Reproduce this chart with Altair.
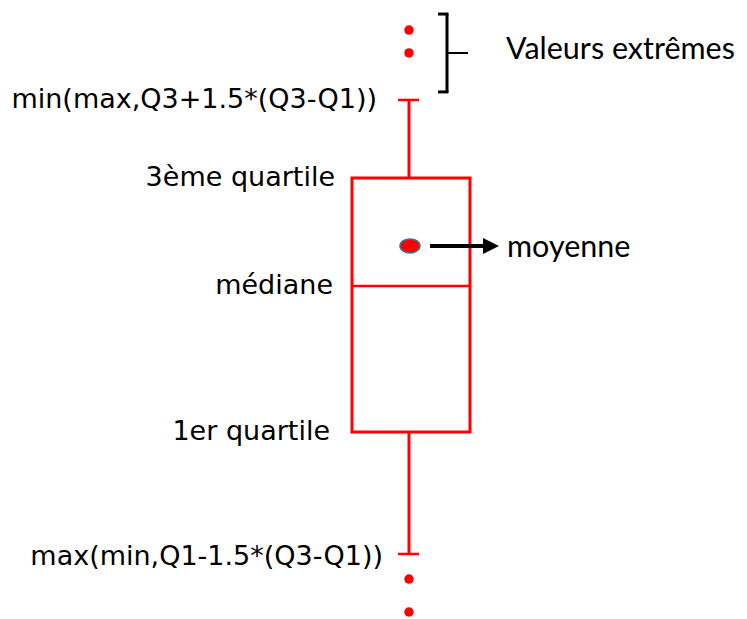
import altair as alt
import pandas as pd

# ---- data (arbitrary value units) ----
q1 = 10.12
median = 15.94
q3 = 20.23
mean = 17.53
whisker_low = 5.27
whisker_high = 23.34
outliers_high = [26.12, 25.21]
outliers_low = [4.27, 2.96]
bracket_span = [26.76, 23.66]

left_labels = ["min(max,Q3+1.5*(Q3-Q1))", "3ème quartile", "médiane", "1er quartile", "max(min,Q1-1.5*(Q3-Q1))"]
left_values = [whisker_high, q3, median, q1, whisker_low - 0.12]
right_labels = ["Valeurs extrêmes", "moyenne"]
right_values = [sum(bracket_span) / 2 + 0.1, mean - 0.1]

# ---- layout (pixels in the plot area) ----
left_label_x = [369, 327, 325, 322, 375]
right_label_x = [498, 499]
BOX_L, BOX_R = 344, 462
WHISK_X = 401
CAP_L, CAP_R = 390, 411
OUT_X = 401
MEAN_X = 402
ARROW_X1, ARROW_X2, HEAD_X = 422, 478, 483
BR_X, BR_L, BR_TICK = 439, 430, 460
RED = "#FF0000"

yscale = alt.Scale(domain=[3, 27])


def Y(field):
    return alt.Y(field, type="quantitative", scale=yscale, axis=None)


def Y2(field):
    return alt.Y2(field)


stats = pd.DataFrame({"q1": [q1], "q3": [q3], "median": [median], "mean": [mean],
                      "lo": [whisker_low], "hi": [whisker_high],
                      "b_top": [bracket_span[0]], "b_bot": [bracket_span[1]],
                      "b_mid": [sum(bracket_span) / 2]})
out_df = pd.DataFrame({"v": outliers_high + outliers_low})
left_df = pd.DataFrame({"label": left_labels, "v": left_values, "xp": left_label_x})
right_df = pd.DataFrame({"label": right_labels, "v": right_values, "xp": right_label_x})

base = alt.Chart(stats)

box = base.mark_rect(fill="white", stroke=RED, strokeWidth=3).encode(
    x=alt.value(BOX_L), x2=alt.value(BOX_R), y=Y("q1"), y2=Y2("q3"))
med = base.mark_rule(color=RED, strokeWidth=2.5).encode(
    x=alt.value(BOX_L), x2=alt.value(BOX_R), y=Y("median"))
wh_up = base.mark_rule(color=RED, strokeWidth=3).encode(
    x=alt.value(WHISK_X), y=Y("q3"), y2=Y2("hi"))
wh_lo = base.mark_rule(color=RED, strokeWidth=3).encode(
    x=alt.value(WHISK_X), y=Y("q1"), y2=Y2("lo"))
cap_up = base.mark_rule(color=RED, strokeWidth=2.5).encode(
    x=alt.value(CAP_L), x2=alt.value(CAP_R), y=Y("hi"))
cap_lo = base.mark_rule(color=RED, strokeWidth=2.5).encode(
    x=alt.value(CAP_L), x2=alt.value(CAP_R), y=Y("lo"))

outs = alt.Chart(out_df).mark_circle(color=RED, size=90, opacity=1).encode(
    x=alt.value(OUT_X), y=Y("v"))

mean_pt = base.mark_point(
    shape="M -1 0 A 1 0.7 0 1 1 1 0 A 1 0.7 0 1 1 -1 0 Z",
    size=400, filled=True, fill=RED, stroke="#41719C", strokeWidth=1.5, opacity=1
).encode(x=alt.value(MEAN_X), y=Y("mean"))

arrow = base.mark_rule(color="black", strokeWidth=4).encode(
    x=alt.value(ARROW_X1), x2=alt.value(ARROW_X2), y=Y("mean"))
head = base.mark_point(shape="M -1 -1 L 1 0 L -1 1 Z", size=256, filled=True,
                       color="black", opacity=1).encode(
    x=alt.value(HEAD_X), y=Y("mean"))

br_v = base.mark_rule(color="black", strokeWidth=3).encode(
    x=alt.value(BR_X), y=Y("b_top"), y2=Y2("b_bot"))
br_t = base.mark_rule(color="black", strokeWidth=3).encode(
    x=alt.value(BR_L), x2=alt.value(BR_X + 1.5), y=Y("b_top"))
br_b = base.mark_rule(color="black", strokeWidth=3).encode(
    x=alt.value(BR_L), x2=alt.value(BR_X + 1.5), y=Y("b_bot"))
br_m = base.mark_rule(color="black", strokeWidth=2).encode(
    x=alt.value(BR_X), x2=alt.value(BR_TICK), y=Y("b_mid"))

ltxt = alt.Chart(left_df).mark_text(align="right", baseline="middle", font="DejaVu Sans",
                                     fontSize=27, color="black").encode(
    x=alt.X("xp:Q", scale=None, axis=None), y=Y("v"), text="label:N")
rtxt = alt.Chart(right_df).mark_text(align="left", baseline="middle", font="Lato",
                                     fontSize=30.5, color="black").encode(
    x=alt.X("xp:Q", scale=None, axis=None), y=Y("v"), text="label:N")

chart = alt.layer(box, med, wh_up, wh_lo, cap_up, cap_lo, outs, mean_pt, arrow, head,
                  br_v, br_t, br_b, br_m, ltxt, rtxt).properties(
    width=731, height=603, autosize="none", background="white",
    padding={"left": 0, "top": 0, "right": 0, "bottom": 8}
).configure_view(stroke=None)

chart.save("out.html", embed_options={"renderer": "svg", "actions": False})
